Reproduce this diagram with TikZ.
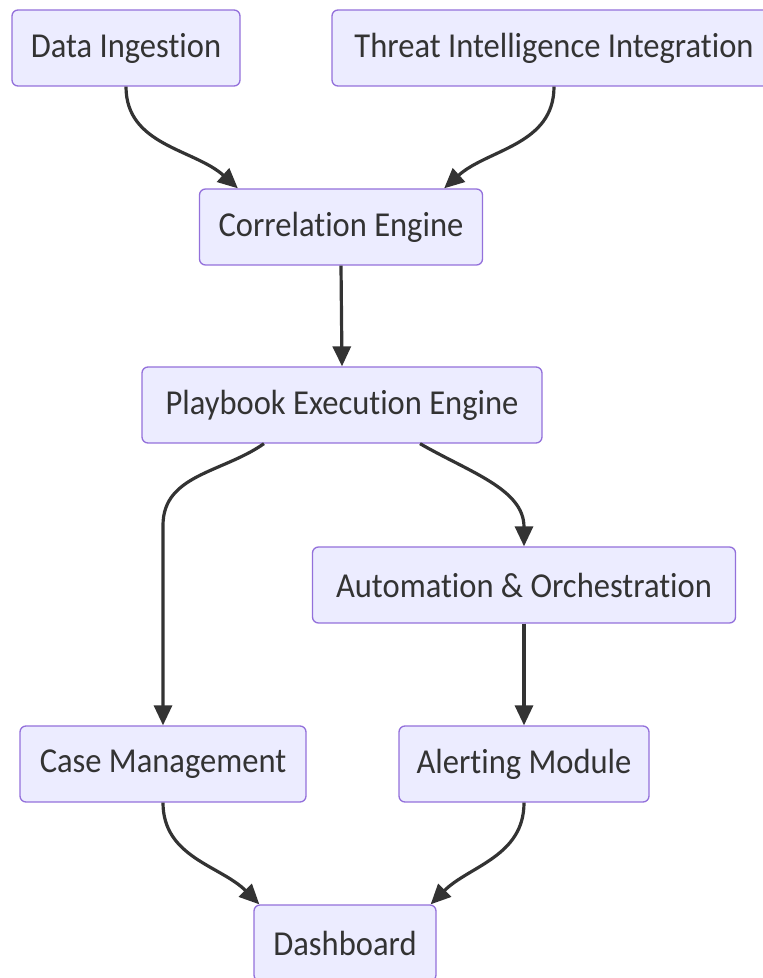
\documentclass[tikz,border=0pt]{standalone}
\usepackage{fontspec}
\setmainfont{Carlito}[FakeStretch=0.93,Ligatures=NoCommon]
\usepackage{xcolor}
\usetikzlibrary{arrows.meta}

\definecolor{boxfill}{HTML}{ECECFF}
\definecolor{boxline}{HTML}{9370DB}
\definecolor{inkgray}{HTML}{333333}

\begin{document}
\begin{tikzpicture}[x=1pt,y=1pt,
    box/.style={draw=boxline,fill=boxfill,line width=1.3pt,rounded corners=6pt,
        minimum height=76pt,text=inkgray,font=\fontsize{35}{40}\selectfont},
    flow/.style={draw=inkgray,line width=3.2pt,-{Triangle[length=20pt,width=18pt]}}]
            \useasboundingbox (0,0) rectangle (763,978);

            \node (di) at (126,930) [box,minimum width=228pt] {Data Ingestion};
            \node (ti) at (554,930) [box,minimum width=444pt] {Threat Intelligence Integration};
            \node (ce) at (341,751) [box,minimum width=283pt] {Correlation Engine};
            \node (pe) at (342,573) [box,minimum width=400pt] {Playbook Execution Engine};
            \node (ao) at (524,393) [box,minimum width=423pt] {Automation \& Orchestration};
            \node (cm) at (163,214) [box,minimum width=286pt] {Case Management};
            \node (am) at (524,214) [box,minimum width=250pt] {Alerting Module};
            \node (db) at (345,35) [box,minimum width=182pt] {Dashboard};

            \draw[flow] (di.south) to[out=-90,in=138] ([xshift=39pt]ce.north west);
            \draw[flow] (ti.south) to[out=-90,in=42] ([xshift=-39pt]ce.north east);
            \draw[flow] (ce.south) -- (pe.north);
            \draw[flow] ([xshift=-78pt]pe.south) to[out=-145,in=90] ([yshift=200pt]cm.north) -- (cm.north);
            \draw[flow] ([xshift=78pt]pe.south) to[out=-30,in=90] (ao.north);
            \draw[flow] (ao.south) -- (am.north);
            \draw[flow] (cm.south) to[out=-90,in=135] ([xshift=6pt]db.north west);
            \draw[flow] (am.south) to[out=-90,in=45] ([xshift=-6pt]db.north east);

        \end{tikzpicture}
\end{document}
